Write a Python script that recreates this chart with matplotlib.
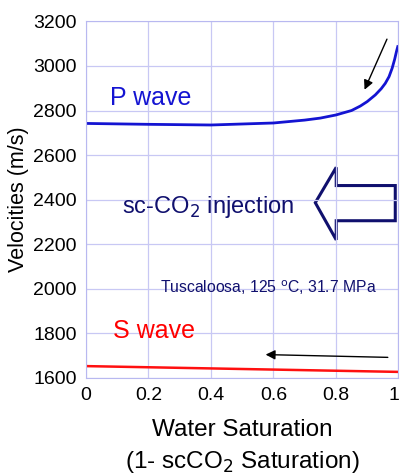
import matplotlib.pyplot as plt
from matplotlib.patches import Polygon
from matplotlib.transforms import ScaledTranslation

plt.rcParams['font.family'] = ['Liberation Sans', 'DejaVu Sans']

# velocity vs. water saturation
sw = [0.0, 0.2, 0.4, 0.6, 0.7, 0.75, 0.8, 0.85, 0.878, 0.9, 0.926, 0.945, 0.958, 0.97, 0.98, 0.988, 0.994, 0.998]
vp = [2742, 2738, 2735, 2744, 2757, 2766, 2780, 2800, 2820, 2840, 2870, 2898, 2922, 2952, 2990, 3030, 3066, 3087]
sw_s = [0.0, 0.5, 1.0]
vs = [1652, 1639, 1626]

fig = plt.figure(figsize=(4.01, 4.74), dpi=100)
ax = fig.add_axes([0.2145, 0.2032, 0.779, 0.7515])

ax.plot(sw, vp, color='#1414d2', lw=2)
ax.plot(sw_s, vs, color='#ff1010', lw=1.8)

ax.set_xlim(0, 1)
ax.set_ylim(1600, 3200)
ax.set_xticks([0, 0.2, 0.4, 0.6, 0.8, 1])
ax.set_xticklabels(['0', '0.2', '0.4', '0.6', '0.8', '1'])
ax.set_yticks(range(1600, 3201, 200))
ax.tick_params(length=0, labelsize=14, pad=6.5)
ax.grid(True, color='#c8c8f4', lw=0.9)
for s in ax.spines.values():
    s.set_color('#b8b8f0')

# keep the last x tick label inside the figure
last = ax.get_xticklabels()[-1]
last.set_transform(last.get_transform() + ScaledTranslation(-3 / 72, 0, fig.dpi_scale_trans))

ax.set_ylabel('Velocities (m/s)', fontsize=15.5, labelpad=3)
ax.set_xlabel('Water Saturation\n(1- scCO$_2$ Saturation)', fontsize=17.5, labelpad=11,
              linespacing=1.4)

ax.text(0.077, 2825, 'P wave', color='#1414d2', fontsize=18, va='baseline')
ax.text(0.087, 1776, 'S wave', color='#ff0000', fontsize=18, va='baseline')
ax.text(0.115, 2341, 'sc-CO$_2$ injection', color='#10106e', fontsize=17, va='baseline')
ax.text(0.237, 1980, 'Tuscaloosa, 125 $^{\\rm o}$C, 31.7 MPa', color='#10106e',
        fontsize=11.3, va='baseline')

# hollow arrow pointing left
arrow = [(0.734, 2386), (0.801, 2545), (0.801, 2463), (0.99, 2463),
         (0.99, 2305), (0.801, 2305), (0.801, 2219)]
ax.add_patch(Polygon(arrow, closed=True, fill=False, ec='#10106e', lw=2.2, clip_on=False))

ax.annotate('', xy=(0.888, 2882), xytext=(0.967, 3132),
            arrowprops=dict(arrowstyle='-|>', color='black', lw=1, mutation_scale=14))
ax.annotate('', xy=(0.566, 1704), xytext=(0.975, 1691),
            arrowprops=dict(arrowstyle='-|>', color='black', lw=1, mutation_scale=14))

fig.savefig('out.png', dpi=100)
